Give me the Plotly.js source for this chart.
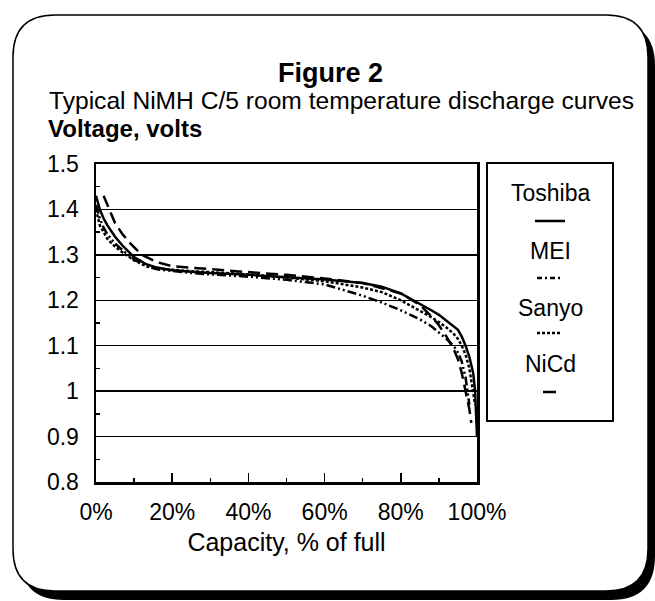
<!DOCTYPE html>
<html>
<head>
<meta charset="utf-8">
<script src="https://cdn.plot.ly/plotly-3.0.1.min.js"></script>
<style>html,body{margin:0;padding:0;background:#fff;}#chart{width:655px;height:601px;}</style>
</head>
<body>
<div id="chart"></div>
<script>
// ---- data ----
const seriesNames = ["Toshiba", "MEI", "Sanyo", "NiCd"];

const toshibaX = [0, 1, 2, 3, 5, 7, 10, 13, 16, 20, 25, 30, 40, 50, 60, 70, 75, 80, 85, 88, 90, 92, 94, 95, 96, 97, 98, 99, 99.5, 100];
const toshibaY = [1.43, 1.40, 1.38, 1.365, 1.34, 1.32, 1.295, 1.28, 1.272, 1.266, 1.263, 1.26, 1.256, 1.251, 1.246, 1.238, 1.230, 1.215, 1.193, 1.178, 1.168, 1.155, 1.143, 1.135, 1.12, 1.10, 1.075, 1.04, 1.0, 0.9];

const meiX = [0, 1, 2, 3, 5, 7, 10, 13, 16, 20, 25, 30, 40, 50, 60, 70, 75, 80, 85, 88, 90, 92, 94, 95, 96, 97, 97.5, 98];
const meiY = [1.41, 1.38, 1.36, 1.345, 1.325, 1.31, 1.29, 1.275, 1.268, 1.264, 1.26, 1.257, 1.252, 1.245, 1.235, 1.21, 1.195, 1.178, 1.158, 1.143, 1.13, 1.115, 1.098, 1.085, 1.065, 1.03, 1.0, 0.97];

const sanyoX = [0, 1, 2, 3, 5, 7, 10, 13, 16, 20, 25, 30, 40, 50, 60, 70, 75, 80, 85, 88, 90, 92, 94, 95, 96, 97, 98, 99, 99.5];
const sanyoY = [1.40, 1.365, 1.35, 1.335, 1.318, 1.305, 1.288, 1.276, 1.27, 1.267, 1.264, 1.262, 1.257, 1.25, 1.242, 1.228, 1.218, 1.2, 1.178, 1.163, 1.152, 1.14, 1.125, 1.115, 1.1, 1.08, 1.05, 1.0, 0.97];

const nicdX = [2, 3, 5, 7, 9, 12, 16, 20, 30, 40, 50, 60, 70, 80, 85, 88, 90, 92, 94, 95, 96, 97, 98, 98.5];
const nicdY = [1.43, 1.41, 1.37, 1.345, 1.325, 1.30, 1.284, 1.275, 1.268, 1.262, 1.256, 1.248, 1.238, 1.215, 1.19, 1.165, 1.145, 1.12, 1.09, 1.07, 1.04, 1.0, 0.96, 0.93];

const xTickVals = [0, 20, 40, 60, 80, 100];
const xTickText = ["0%", "20%", "40%", "60%", "80%", "100%"];
const yTickVals = [0.8, 0.9, 1.0, 1.1, 1.2, 1.3, 1.4, 1.5];
const yTickText = ["0.8", "0.9", "1", "1.1", "1.2", "1.3", "1.4", "1.5"];

const titleText = "Figure 2";
const subtitleText = "Typical NiMH C/5 room temperature discharge curves";
const yTitleText = "Voltage, volts";
const xTitleText = "Capacity, % of full";

// ---- layout helpers (pixel -> paper) ----
const W = 655, H = 601, L = 96, R = 477, T = 164, B = 482;
const px = x => (x - L) / (R - L);
const py = y => (B - y) / (B - T);
function rr(x0, y0, x1, y1, r) {
  return `M ${px(x0 + r)},${py(y0)} L ${px(x1 - r)},${py(y0)} Q ${px(x1)},${py(y0)} ${px(x1)},${py(y0 + r)} ` +
    `L ${px(x1)},${py(y1 - r)} Q ${px(x1)},${py(y1)} ${px(x1 - r)},${py(y1)} ` +
    `L ${px(x0 + r)},${py(y1)} Q ${px(x0)},${py(y1)} ${px(x0)},${py(y1 - r)} ` +
    `L ${px(x0)},${py(y0 + r)} Q ${px(x0)},${py(y0)} ${px(x0 + r)},${py(y0)} Z`;
}

const FONT = "Liberation Sans, Arial, Helvetica, sans-serif";
const styles = {
  Toshiba: {dash: "solid", width: 2.5},
  MEI: {dash: "9px,3px,2px,3px,2px,3px", width: 2.5},
  Sanyo: {dash: "3px,2px", width: 2.5},
  NiCd: {dash: "12px,6px", width: 2.5}
};
const xs = [toshibaX, meiX, sanyoX, nicdX];
const ys = [toshibaY, meiY, sanyoY, nicdY];

const traces = seriesNames.map((n, i) => ({
  type: "scatter", mode: "lines", name: n, x: xs[i], y: ys[i],
  line: {color: "#000", width: styles[n].width, dash: styles[n].dash},
  showlegend: false, hoverinfo: "skip"
}));

// legend (drawn as box + texts + sample lines)
const legTextY = [193, 251, 308, 364];
const legLineY = [221, 278, 333, 392];
const legLineX = [[535, 565], [537, 562], [537, 562], [543, 556]];

const shapes = [
  {type: "path", xref: "paper", yref: "paper", layer: "below", path: rr(20, 22, 655, 600, 44), fillcolor: "#000", line: {width: 0}},
  {type: "path", xref: "paper", yref: "paper", layer: "below", path: rr(13, 15, 648, 591, 42), fillcolor: "#fff", line: {color: "#000", width: 1.5}},
  {type: "rect", xref: "paper", yref: "paper", x0: px(487), x1: px(613), y0: py(163), y1: py(421), line: {color: "#000", width: 2}, fillcolor: "rgba(0,0,0,0)"}
];
seriesNames.forEach((n, i) => {
  shapes.push({type: "line", xref: "paper", yref: "paper",
    x0: px(legLineX[i][0]), x1: px(legLineX[i][1]), y0: py(legLineY[i]), y1: py(legLineY[i]),
    line: {color: "#000", width: 2.5, dash: i === 1 ? "5px,3px,2px,3px" : (i === 2 ? "3px,2px" : "solid")}});
});

const annotations = [
  {text: "<b>" + titleText + "</b>", x: px(330), y: py(73), xref: "paper", yref: "paper", showarrow: false, xanchor: "center", yanchor: "middle", font: {family: FONT, size: 27, color: "#000"}},
  {text: subtitleText, x: px(47), y: py(101), xref: "paper", yref: "paper", showarrow: false, xanchor: "left", yanchor: "middle", font: {family: FONT, size: 24.6, color: "#000"}},
  {text: "<b>" + yTitleText + "</b>", x: px(46), y: py(128), xref: "paper", yref: "paper", showarrow: false, xanchor: "left", yanchor: "middle", font: {family: FONT, size: 24, color: "#000"}}
];
seriesNames.forEach((n, i) => {
  annotations.push({text: n, x: px(550), y: py(legTextY[i]), xref: "paper", yref: "paper", showarrow: false, xanchor: "center", yanchor: "middle", font: {family: FONT, size: 23, color: "#000"}});
});

const layout = {
  width: W, height: H,
  margin: {l: L, r: W - R, t: T, b: H - B, pad: 0},
  paper_bgcolor: "#fff", plot_bgcolor: "rgba(0,0,0,0)",
  showlegend: false,
  font: {family: FONT, color: "#000", size: 23},
  xaxis: {
    range: [0, 100], showgrid: false, zeroline: false,
    showline: true, mirror: true, linecolor: "#000", linewidth: 2.5,
    tickvals: xTickVals, ticktext: xTickText, ticks: "inside", ticklen: 9, tickwidth: 1.5, tickcolor: "#000",
    minor: {tickvals: [10, 30, 50, 70, 90], ticks: "inside", ticklen: 4, tickwidth: 1.5, tickcolor: "#000"},
    tickfont: {family: FONT, size: 23, color: "#000"},
    ticklabelstandoff: 8,
    title: {text: xTitleText, font: {family: FONT, size: 25, color: "#000"}, standoff: 10},
    fixedrange: true
  },
  yaxis: {
    range: [0.8, 1.5], showgrid: true, gridcolor: "#000", gridwidth: 1.5, zeroline: false,
    showline: true, mirror: true, linecolor: "#000", linewidth: 2.5,
    tickvals: yTickVals, ticktext: yTickText, ticks: "",
    minor: {tickvals: [0.85, 0.95, 1.05, 1.15, 1.25, 1.35, 1.45], ticks: "inside", ticklen: 4, tickwidth: 1.5, tickcolor: "#000", showgrid: false},
    tickfont: {family: FONT, size: 23, color: "#000"},
    ticklabelstandoff: 10,
    fixedrange: true
  },
  shapes: shapes,
  annotations: annotations
};

Plotly.newPlot("chart", traces, layout, {staticPlot: true, displayModeBar: false});
</script>
</body>
</html>
